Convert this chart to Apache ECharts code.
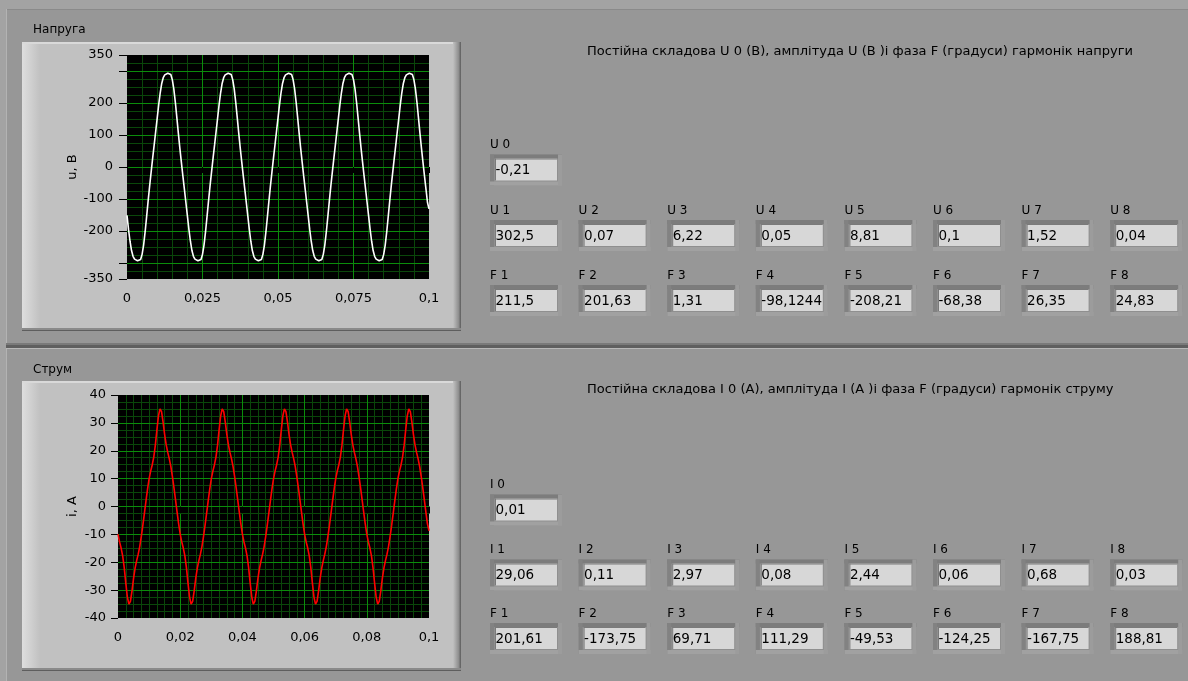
<!DOCTYPE html>
<html>
<head>
<meta charset="utf-8">
<script src="https://cdn.jsdelivr.net/npm/echarts@6/dist/echarts.min.js"></script>
<style>
html,body{margin:0;padding:0;background:#a3a3a3;}
#chart{width:1188px;height:681px;}
</style>
</head>
<body>
<div id="chart"></div>
<script>
// ---------------- DATA ----------------
const sampleStep = 0.0005; // s between samples
// voltage u, V  (t = 0 ... 0.1 s)
const voltage = [
-151,-195,-232,-261,-279,-288,-291,-293,-294,-289,-273,-244,-203,-155,-106,-59,-15,28,69,111,153,195,232,261,279,288,291,293,294,289,273,244,203,155,106,59,15,-28,-69,-111,
-153,-195,-232,-261,-279,-288,-291,-293,-294,-289,-273,-244,-203,-155,-106,-59,-15,28,69,111,153,195,232,261,279,288,291,293,294,289,273,244,203,155,106,59,15,-28,-69,-111,
-153,-195,-232,-261,-279,-288,-291,-293,-294,-289,-273,-244,-203,-155,-106,-59,-15,28,69,111,153,195,232,261,279,288,291,293,294,289,273,244,203,155,106,59,15,-28,-69,-111,
-153,-195,-232,-261,-279,-288,-291,-293,-294,-289,-273,-244,-203,-155,-106,-59,-15,28,69,111,153,195,232,261,279,288,291,293,294,289,273,244,203,155,106,59,15,-28,-69,-111,
-153,-195,-232,-261,-279,-288,-291,-293,-294,-289,-273,-244,-203,-155,-106,-59,-15,28,69,111,153,195,232,261,279,288,291,293,294,289,273,244,203,155,106,59,15,-28,-69,-111,
-131
];
// current i, A  (t = 0 ... 0.1 s)
const current = [
-9.9,-12.7,-14.9,-17.7,-21.9,-27.4,-32.4,-35.0,-34.0,-30.3,-25.8,-22.1,-19.4,-17.1,-14.3,-10.7,-6.7,-2.4,2.0,6.2,9.9,12.7,14.9,17.7,21.9,27.4,32.4,35.0,34.0,30.3,25.8,22.1,19.4,17.1,14.3,10.7,6.7,2.4,-2.0,-6.2,
-9.9,-12.7,-14.9,-17.7,-21.9,-27.4,-32.4,-35.0,-34.0,-30.3,-25.8,-22.1,-19.4,-17.1,-14.3,-10.7,-6.7,-2.4,2.0,6.2,9.9,12.7,14.9,17.7,21.9,27.4,32.4,35.0,34.0,30.3,25.8,22.1,19.4,17.1,14.3,10.7,6.7,2.4,-2.0,-6.2,
-9.9,-12.7,-14.9,-17.7,-21.9,-27.4,-32.4,-35.0,-34.0,-30.3,-25.8,-22.1,-19.4,-17.1,-14.3,-10.7,-6.7,-2.4,2.0,6.2,9.9,12.7,14.9,17.7,21.9,27.4,32.4,35.0,34.0,30.3,25.8,22.1,19.4,17.1,14.3,10.7,6.7,2.4,-2.0,-6.2,
-9.9,-12.7,-14.9,-17.7,-21.9,-27.4,-32.4,-35.0,-34.0,-30.3,-25.8,-22.1,-19.4,-17.1,-14.3,-10.7,-6.7,-2.4,2.0,6.2,9.9,12.7,14.9,17.7,21.9,27.4,32.4,35.0,34.0,30.3,25.8,22.1,19.4,17.1,14.3,10.7,6.7,2.4,-2.0,-6.2,
-9.9,-12.7,-14.9,-17.7,-21.9,-27.4,-32.4,-35.0,-34.0,-30.3,-25.8,-22.1,-19.4,-17.1,-14.3,-10.7,-6.7,-2.4,2.0,6.2,9.9,12.7,14.9,17.7,21.9,27.4,32.4,35.0,34.0,30.3,25.8,22.1,19.4,17.1,14.3,10.7,6.7,2.4,-2.0,-6.2,
-8.7
];
// tick labels / tick marks
const uYLabelValues = [-350, -200, -100, 0, 100, 200, 350];
const uYTickValues  = [-350, -300, -200, -100, 0, 100, 200, 300, 350];
const uXTickValues  = [0, 0.025, 0.05, 0.075, 0.1];
const iYTickValues  = [-40, -30, -20, -10, 0, 10, 20, 30, 40];
const iXTickValues  = [0, 0.02, 0.04, 0.06, 0.08, 0.1];
// major grid lines
const uXMajorGrid = [0.025, 0.05, 0.075];
const uYMajorGrid = [-300, -200, -100, 0, 100, 200, 300];
const iXMajorGrid = [0.02, 0.04, 0.06, 0.08];
const iYMajorGrid = [-30, -20, -10, 0, 10, 20, 30];
// indicator texts
const panelTitles = ['Напруга', 'Струм'];
const tableTitles = [
  'Постійна складова U 0 (В), амплітуда U (В )і фаза F (градуси) гармонік напруги',
  'Постійна складова I 0 (А), амплітуда I (А )і фаза F (градуси) гармонік струму'
];
const axisNames = ['u, B', 'i, A'];
const uDcLabel = 'U 0', uDcValue = '-0,21';
const uAmpLabels = ['U 1','U 2','U 3','U 4','U 5','U 6','U 7','U 8'];
const uAmpValues = ['302,5','0,07','6,22','0,05','8,81','0,1','1,52','0,04'];
const uPhaseLabels = ['F 1','F 2','F 3','F 4','F 5','F 6','F 7','F 8'];
const uPhaseValues = ['211,5','201,63','1,31','-98,1244','-208,21','-68,38','26,35','24,83'];
const iDcLabel = 'I 0', iDcValue = '0,01';
const iAmpLabels = ['I 1','I 2','I 3','I 4','I 5','I 6','I 7','I 8'];
const iAmpValues = ['29,06','0,11','2,97','0,08','2,44','0,06','0,68','0,03'];
const iPhaseLabels = ['F 1','F 2','F 3','F 4','F 5','F 6','F 7','F 8'];
const iPhaseValues = ['201,61','-173,75','69,71','111,29','-49,53','-124,25','-167,75','188,81'];

// ---------------- STYLE / LAYOUT ----------------
const FONT = 'DejaVu Sans';
const MAJOR = '#0b8c0b', MINOR = '#0a470a';
const PANEL = '#979797';

const chart = echarts.init(document.getElementById('chart'), null, {renderer: 'canvas'});
const toPairs = arr => arr.map((v, k) => [+(k * sampleStep).toFixed(4), v]);
const fmt = v => (Math.round(v * 10000) / 10000).toString().replace('.', ',');

const G = [];
function rect(x, y, w, h, fill, z) { G.push({type: 'rect', z: z, silent: true, shape: {x, y, width: w, height: h}, style: {fill}}); }
function text(x, y, s, size, z, align) {
  G.push({type: 'text', z: z || 50, silent: true, style: {text: s, x, y, fill: '#000', font: size + 'px "' + FONT + '"',
    align: align || 'left', verticalAlign: 'middle', textAlign: align || 'left', textVerticalAlign: 'middle'}});
}
// panels
rect(6, 9, 1182, 334, PANEL, -20);
rect(6, 9, 1182, 1, '#8a8a8a', -19);
rect(6, 9, 1, 334, '#b3b3b3', -19);
rect(6, 343, 1182, 2, '#7a7a7a', -19);
rect(6, 345, 1182, 3, '#5f5f5f', -19);
rect(6, 349, 1182, 332, PANEL, -20);
rect(6, 348, 1182, 1, '#b8b8b8', -19);
rect(6, 349, 1, 332, '#b3b3b3', -19);

// graph frames
function frame(x, y, w, h) {
  rect(x, y, w, h, '#c1c1c1', -15);
  G.push({type: 'rect', z: -14, silent: true, shape: {x: x, y: y, width: 18, height: h},
    style: {fill: new echarts.graphic.LinearGradient(0, 0, 1, 0, [{offset: 0, color: '#dedede'}, {offset: 1, color: '#c1c1c1'}])}});
  rect(x, y, w, 2, '#d9d9d9', -13);
  G.push({type: 'rect', z: -13, silent: true, shape: {x: x + w - 8, y: y, width: 8, height: h},
    style: {fill: new echarts.graphic.LinearGradient(0, 0, 1, 0, [{offset: 0, color: '#c1c1c1'}, {offset: 0.7, color: '#8f8f8f'}, {offset: 1, color: '#5c5c5c'}])}});
  rect(x, y + h - 3, w, 3, '#8a8a8a', -13);
  rect(x, y + h - 1, w, 1, '#5e5e5e', -13);
}
frame(22, 42, 439, 289);
frame(22, 381, 439, 290);

text(33, 30, panelTitles[0], 12);
text(33, 370, panelTitles[1], 12);
text(587, 52, tableTitles[0], 13);
text(587, 390, tableTitles[1], 13);

// indicator boxes
function indicator(x, labelY, label, value) {
  text(x, labelY, label, 12);
  const by = labelY + 9.5;
  rect(x, by, 72, 31, '#8f8f8f', 10);
  rect(x, by, 72, 4, '#7c7c7c', 11);
  rect(x, by, 4, 31, '#828282', 11);
  rect(x, by + 27, 72, 4, '#a1a1a1', 11);
  rect(x + 68, by, 4, 31, '#9c9c9c', 11);
  rect(x + 5, by + 4, 62, 22, '#d7d7d7', 12);
  rect(x + 5, by + 4, 62, 1, '#7a7a7a', 13);
  rect(x + 5, by + 4, 1, 22, '#7a7a7a', 13);
  text(x + 5.5, by + 16, value, 13.5, 14);
}
const colX = k => 490 + k * 88.6;
indicator(colX(0), 145, uDcLabel, uDcValue);
uAmpLabels.forEach((l, k) => indicator(colX(k), 210.5, l, uAmpValues[k]));
uPhaseLabels.forEach((l, k) => indicator(colX(k), 275.5, l, uPhaseValues[k]));
indicator(colX(0), 485, iDcLabel, iDcValue);
iAmpLabels.forEach((l, k) => indicator(colX(k), 550, l, iAmpValues[k]));
iPhaseLabels.forEach((l, k) => indicator(colX(k), 613.5, l, iPhaseValues[k]));

const labelStyle = {color: '#000', fontFamily: FONT, fontSize: 13};
function minorAxis(gridIndex, min, max, step) {
  return {type: 'value', gridIndex, min, max, interval: step, z: 0,
    axisLine: {show: false}, axisTick: {show: false}, axisLabel: {show: false},
    splitLine: {show: true, showMinLine: false, showMaxLine: false, lineStyle: {color: MINOR, width: 1}}};
}
function majorAxis(gridIndex, min, max, values) {
  return {type: 'value', gridIndex, min, max, z: 1,
    axisLine: {show: false}, axisTick: {show: false, customValues: values}, axisLabel: {show: false, customValues: values},
    splitLine: {show: true, lineStyle: {color: MAJOR, width: 1}}};
}

const option = {
  backgroundColor: '#a3a3a3',
  animation: false,
  graphic: {elements: G},
  grid: [
    {left: 127, top: 55, width: 302, height: 224, show: true, backgroundColor: '#000', borderWidth: 0, containLabel: false},
    {left: 118, top: 395, width: 311, height: 223, show: true, backgroundColor: '#000', borderWidth: 0, containLabel: false}
  ],
  xAxis: [
    {type: 'value', gridIndex: 0, min: 0, max: 0.1, interval: 0.025, offset: 4, z: 2,
      axisLine: {show: false}, splitLine: {show: false},
      axisTick: {show: true, length: 6, lineStyle: {color: '#000'}, customValues: uXTickValues},
      axisLabel: Object.assign({margin: 9, formatter: fmt, customValues: uXTickValues}, labelStyle)},
    minorAxis(0, 0, 0.1, 0.005),
    majorAxis(0, 0, 0.1, uXMajorGrid),
    {type: 'value', gridIndex: 1, min: 0, max: 0.1, interval: 0.02, offset: 2, z: 2,
      axisLine: {show: false}, splitLine: {show: false},
      axisTick: {show: true, length: 7, lineStyle: {color: '#000'}, customValues: iXTickValues},
      axisLabel: Object.assign({margin: 11, formatter: fmt, customValues: iXTickValues}, labelStyle)},
    minorAxis(1, 0, 0.1, 0.0025),
    majorAxis(1, 0, 0.1, iXMajorGrid)
  ],
  yAxis: [
    {type: 'value', gridIndex: 0, min: -350, max: 350, interval: 50, offset: 3, z: 2,
      name: axisNames[0], nameLocation: 'middle', nameGap: 45, nameRotate: 90,
      nameTextStyle: {color: '#000', fontFamily: FONT, fontSize: 13},
      axisLine: {show: false}, splitLine: {show: false},
      axisTick: {show: true, length: 8, lineStyle: {color: '#000'}, customValues: uYTickValues},
      axisLabel: Object.assign({margin: 11, formatter: fmt, customValues: uYLabelValues}, labelStyle)},
    minorAxis(0, -350, 350, 25),
    majorAxis(0, -350, 350, uYMajorGrid),
    {type: 'value', gridIndex: 1, min: -40, max: 40, interval: 10, offset: 3, z: 2,
      name: axisNames[1], nameLocation: 'middle', nameGap: 36, nameRotate: 90,
      nameTextStyle: {color: '#000', fontFamily: FONT, fontSize: 13},
      axisLine: {show: false}, splitLine: {show: false},
      axisTick: {show: true, length: 7, lineStyle: {color: '#000'}, customValues: iYTickValues},
      axisLabel: Object.assign({margin: 9, formatter: fmt, customValues: iYTickValues}, labelStyle)},
    minorAxis(1, -40, 40, 2.5),
    majorAxis(1, -40, 40, iYMajorGrid)
  ],
  series: [
    {type: 'line', xAxisIndex: 0, yAxisIndex: 0, data: toPairs(voltage), showSymbol: false, symbol: 'none',
      lineStyle: {color: '#ffffff', width: 1.6}, z: 5},
    {type: 'line', xAxisIndex: 3, yAxisIndex: 3, data: toPairs(current), showSymbol: false, symbol: 'none',
      lineStyle: {color: '#ff0000', width: 1.6}, z: 5}
  ]
};
chart.setOption(option);
</script>
</body>
</html>
